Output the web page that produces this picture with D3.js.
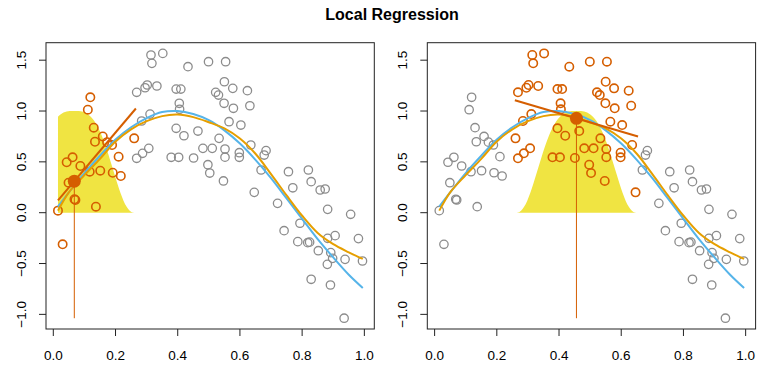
<!DOCTYPE html>
<html>
<head>
<meta charset="utf-8">
<script src="https://cdn.jsdelivr.net/npm/d3@7"></script>
<style>
  html, body { margin: 0; padding: 0; background: #fff; }
  svg { display: block; }
  text { font-family: "Liberation Sans", Arial, Helvetica, sans-serif; fill: #000; }
</style>
</head>
<body>
<svg id="chart" width="784" height="373"></svg>
<script>
// ---------------- data ----------------
const pointX = [
  0.119, 0.111, 0.130, 0.159, 0.134, 0.173, 0.189, 0.210, 0.062, 0.043,
  0.087, 0.117, 0.151, 0.191, 0.217, 0.049, 0.260, 0.071, 0.068, 0.015,
  0.137, 0.030,
  0.314, 0.317, 0.352, 0.433, 0.499, 0.268, 0.295, 0.302, 0.333, 0.395,
  0.410, 0.405, 0.406, 0.311, 0.284, 0.395, 0.420, 0.465, 0.307, 0.287,
  0.268, 0.379, 0.403, 0.451, 0.481, 0.497, 0.503,
  0.554, 0.550, 0.577, 0.624, 0.522, 0.531, 0.549, 0.579, 0.632, 0.565,
  0.603, 0.533, 0.511, 0.552, 0.552, 0.598, 0.598, 0.635, 0.684, 0.678,
  0.668, 0.756, 0.820, 0.829, 0.770, 0.858, 0.874, 0.646, 0.547,
  0.721, 0.882, 0.956, 0.793, 0.742, 0.786, 0.818, 0.824, 0.852, 0.882,
  0.906, 0.981, 0.892, 0.898, 0.938, 0.881, 0.994, 0.829, 0.891, 0.935
];
const pointY = [
  1.135, 1.013, 0.836, 0.750, 0.698, 0.694, 0.666, 0.551, 0.545, 0.496,
  0.459, 0.403, 0.413, 0.393, 0.361, 0.295, 0.731, 0.125, 0.132, 0.020,
  0.059, -0.311,
  1.551, 1.469, 1.567, 1.436, 1.485, 1.184, 1.229, 1.256, 1.246, 1.216,
  1.216, 1.076, 1.017, 0.970, 0.902, 0.830, 0.757, 0.803, 0.633, 0.584,
  0.535, 0.545, 0.545, 0.538, 0.633, 0.472, 0.390,
  1.485, 1.288, 1.223, 1.200, 1.184, 1.157, 1.076, 1.027, 1.052, 0.895,
  0.862, 0.731, 0.633, 0.626, 0.546, 0.590, 0.545, 0.666, 0.610, 0.567,
  0.420, 0.403, 0.420, 0.305, 0.245, 0.223, 0.233, 0.200, 0.312,
  0.092, 0.033, -0.016, -0.104, -0.177, -0.285, -0.295, -0.290, -0.374, -0.252,
  -0.226, -0.255, -0.393, -0.449, -0.459, -0.508, -0.475, -0.655, -0.711, -1.038
];

// smooth curves read at these x positions
const curveX = [0.015, 0.05, 0.10, 0.15, 0.20, 0.25, 0.30, 0.35, 0.40, 0.45, 0.50,
                0.55, 0.60, 0.65, 0.70, 0.75, 0.80, 0.85, 0.90, 0.95, 0.995];
const trueY  = [0.06, 0.20, 0.39, 0.56, 0.72, 0.84, 0.93, 0.99, 1.00, 0.97, 0.91,
                0.81, 0.68, 0.52, 0.34, 0.14, -0.06, -0.26, -0.44, -0.61, -0.74];
const fitY   = [0.02, 0.20, 0.37, 0.53, 0.70, 0.82, 0.90, 0.95, 0.965, 0.94, 0.89,
                0.83, 0.73, 0.58, 0.38, 0.17, -0.03, -0.20, -0.31, -0.39, -0.455];

// local fits at the two target points
const targetX = [0.0675, 0.456];
const targetY = [0.31, 0.928];
const localSlope = [3.61, -0.90];
const halfWidth = 0.198;

// kernel weight profile (relative distance -> weight), read from the yellow shape
const kernelU = [0, 0.05, 0.1, 0.15, 0.2, 0.25, 0.3, 0.35, 0.4, 0.45, 0.5,
                 0.55, 0.6, 0.65, 0.7, 0.75, 0.8, 0.85, 0.9, 0.95, 1.0];
const kernelW = [1, 0.9996, 0.997, 0.990, 0.976, 0.954, 0.921, 0.877, 0.820, 0.751, 0.670,
                 0.579, 0.482, 0.382, 0.284, 0.193, 0.116, 0.058, 0.020, 0.003, 0];

const xTicks = [0, 0.2, 0.4, 0.6, 0.8, 1.0];
const yTicks = [-1.0, -0.5, 0.0, 0.5, 1.0, 1.5];
const titleText = "Local Regression";

// ---------------- drawing ----------------
const COL = {
  yellow: "#F0E442", inPt: "#D55E00", outPt: "#8C8C8C",
  truth: "#56B4E9", fit: "#E69F00", local: "#D55E00", box: "#222"
};

const svg = d3.select("#chart");
svg.append("text")
  .attr("x", 392).attr("y", 20)
  .attr("text-anchor", "middle")
  .style("font-size", "16px").style("font-weight", "bold")
  .text(titleText);

const boxW = 328.3, boxTop = 42.7, boxH = 286.3;
const panelLeft = [46, 427.3];
const xMin = d3.min(pointX), xMax = d3.max(pointX), yMin = d3.min(pointY);
const kernelAt = d3.scaleLinear().domain(kernelU).range(kernelW).clamp(true);
const fmt = v => d3.format(".1f")(v).replace("-", "\u2212");

panelLeft.forEach((left, p) => {
  const x = d3.scaleLinear().domain([-0.0235, 1.032]).range([left, left + boxW]);
  const y = d3.scaleLinear().domain([-1.144, 1.672]).range([boxTop + boxH, boxTop]);
  const g = svg.append("g");
  const x0 = targetX[p], y0 = targetY[p], b = localSlope[p];
  const lo = Math.max(xMin, x0 - halfWidth), hi = Math.min(xMax, x0 + halfWidth);

  // kernel area
  let kx = [];
  kernelU.forEach(u => { kx.push(x0 - u * halfWidth); kx.push(x0 + u * halfWidth); });
  kx.push(lo, hi);
  kx = Array.from(new Set(kx.filter(v => v >= lo - 1e-9 && v <= hi + 1e-9))).sort((a, c) => a - c);
  g.append("path")
    .datum(kx)
    .attr("fill", COL.yellow)
    .attr("d", d3.area()
      .x(d => x(d))
      .y0(y(0))
      .y1(d => y(kernelAt(Math.abs(d - x0) / halfWidth)))
      .curve(d3.curveMonotoneX));

  // points
  const pts = pointX.map((v, i) => ({ x: v, y: pointY[i], inside: Math.abs(v - x0) <= halfWidth }));
  g.selectAll("circle.pt")
    .data(pts.filter(d => !d.inside).concat(pts.filter(d => d.inside)))
    .join("circle")
    .attr("class", "pt")
    .attr("cx", d => x(d.x)).attr("cy", d => y(d.y)).attr("r", 4.2)
    .attr("fill", "none")
    .attr("stroke", d => d.inside ? COL.inPt : COL.outPt)
    .attr("stroke-width", d => d.inside ? 1.6 : 1.3);

  const line = d3.line().x(d => x(d[0])).y(d => y(d[1])).curve(d3.curveCatmullRom.alpha(0.5));
  g.append("path").datum(curveX.map((v, i) => [v, trueY[i]]))
    .attr("d", line).attr("fill", "none").attr("stroke", COL.truth).attr("stroke-width", 2);
  g.append("path").datum(curveX.map((v, i) => [v, fitY[i]]))
    .attr("d", line).attr("fill", "none").attr("stroke", COL.fit).attr("stroke-width", 2);

  // local linear fit
  g.append("line")
    .attr("x1", x(lo)).attr("y1", y(y0 + b * (lo - x0)))
    .attr("x2", x(hi)).attr("y2", y(y0 + b * (hi - x0)))
    .attr("stroke", COL.local).attr("stroke-width", 2);
  g.append("line")
    .attr("x1", x(x0)).attr("y1", y(y0))
    .attr("x2", x(x0)).attr("y2", y(yMin))
    .attr("stroke", COL.local).attr("stroke-width", 1);
  g.append("circle")
    .attr("cx", x(x0)).attr("cy", y(y0)).attr("r", 6.5)
    .attr("fill", COL.local);

  // box
  g.append("rect")
    .attr("x", left).attr("y", boxTop).attr("width", boxW).attr("height", boxH)
    .attr("fill", "none").attr("stroke", COL.box).attr("stroke-width", 1);

  // x axis (R style)
  const bottom = boxTop + boxH;
  g.selectAll("line.xt").data(xTicks).join("line")
    .attr("x1", d => x(d)).attr("x2", d => x(d))
    .attr("y1", bottom).attr("y2", bottom + 7)
    .attr("stroke", COL.box);
  g.selectAll("text.xl").data(xTicks).join("text")
    .attr("x", d => x(d)).attr("y", bottom + 31)
    .attr("text-anchor", "middle").style("font-size", "13.5px")
    .text(fmt);

  // y axis (R style, rotated labels)
  g.selectAll("line.yt").data(yTicks).join("line")
    .attr("x1", left - 7).attr("x2", left)
    .attr("y1", d => y(d)).attr("y2", d => y(d))
    .attr("stroke", COL.box);
  g.selectAll("text.yl").data(yTicks).join("text")
    .attr("transform", d => `translate(${left - 20},${y(d)}) rotate(-90)`)
    .attr("text-anchor", "middle").style("font-size", "13.5px")
    .text(fmt);
});
</script>
</body>
</html>
